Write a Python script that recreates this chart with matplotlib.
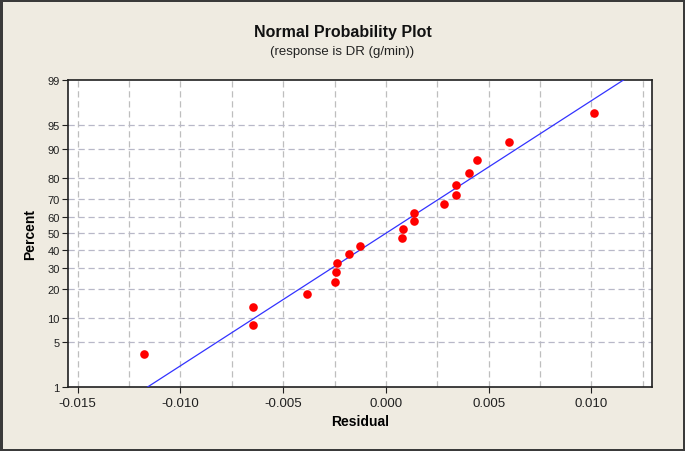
import math
import numpy as np
from matplotlib import pyplot as plt

# residuals (sorted)
residuals = [-0.01178, -0.00649, -0.00646, -0.00383, -0.00250, -0.00243,
             -0.00237, -0.00180, -0.00128, 0.00079, 0.00084, 0.00136,
             0.00136, 0.00281, 0.00341, 0.00341, 0.00403, 0.00445,
             0.00600, 0.01013]
pct_ticks = [1, 5, 10, 20, 30, 40, 50, 60, 70, 80, 90, 95, 99]
x_ticks = [-0.015, -0.010, -0.005, 0.000, 0.005, 0.010]
x_grid = [-0.015, -0.0125, -0.010, -0.0075, -0.005, -0.0025, 0.0,
          0.0025, 0.005, 0.0075, 0.010, 0.0125]

plt.rcParams['font.family'] = ['Liberation Sans', 'DejaVu Sans']

erf = np.vectorize(math.erf)


def cdf(z):
    return 0.5 * (1 + erf(np.asarray(z, float) / math.sqrt(2)))


z_tab = np.linspace(-8, 8, 40001)
p_tab = cdf(z_tab)


def fwd(p):
    p = np.clip(np.asarray(p, float) / 100, 1e-12, 1 - 1e-12)
    return np.interp(p, p_tab, z_tab)


def inv(z):
    return 100 * cdf(z)


r = np.sort(np.array(residuals))
n = len(r)
pct = (np.arange(1, n + 1) - 0.3) / (n + 0.4) * 100  # median ranks
mu, sd = r.mean(), r.std(ddof=1)

bg = '#efebe1'
fig = plt.figure(figsize=(6.85, 4.52), dpi=100, facecolor=bg,
                 edgecolor='#3a3a3a', linewidth=2.5)
ax = fig.add_axes([0.0993, 0.1416, 0.8525, 0.6792])
ax.set_yscale('function', functions=(fwd, inv))

xs = np.linspace(-0.0155, 0.0130, 400)
ax.plot(xs, inv((xs - mu) / sd), color='#3333ff', lw=0.9, zorder=3)
ax.plot(r, pct, 'o', color='#ff0000', ms=6.2, mec='none', zorder=4)

ax.set_xlim(-0.01547, 0.01295)
ax.set_ylim(1, 99)
ax.set_xticks(x_ticks)
ax.set_xticklabels(['%.3f' % v for v in x_ticks])
ax.set_yticks(pct_ticks)
ax.set_yticklabels([str(v) for v in pct_ticks])
ax.minorticks_off()

for gx in x_grid:
    ax.axvline(gx, color='#bebebe', lw=0.9, ls=(0, (5, 3)), zorder=1)
for gy in pct_ticks[1:-1]:
    ax.axhline(gy, color='#b8b8c8', lw=0.9, ls=(0, (5, 3)), zorder=1)

for s in ax.spines.values():
    s.set_color('#202020')
    s.set_linewidth(1.2)
ax.tick_params(axis='x', labelsize=9.5, length=4, colors='#202020', pad=3)
ax.tick_params(axis='y', labelsize=8, length=4, colors='#202020', pad=2)

ax.set_xlabel('Residual', fontsize=10, fontweight='bold', labelpad=4)
ax.set_ylabel('Percent', fontsize=10, fontweight='bold', labelpad=7)

fig.text(0.5, 0.928, 'Normal Probability Plot', ha='center', va='center',
         fontsize=11.5, fontweight='bold', color='#111111')
fig.text(0.5, 0.884, '(response is DR (g/min))', ha='center', va='center',
         fontsize=9.5, color='#222222')

fig.savefig('out.png', dpi=100, facecolor=bg, edgecolor='#3a3a3a')
